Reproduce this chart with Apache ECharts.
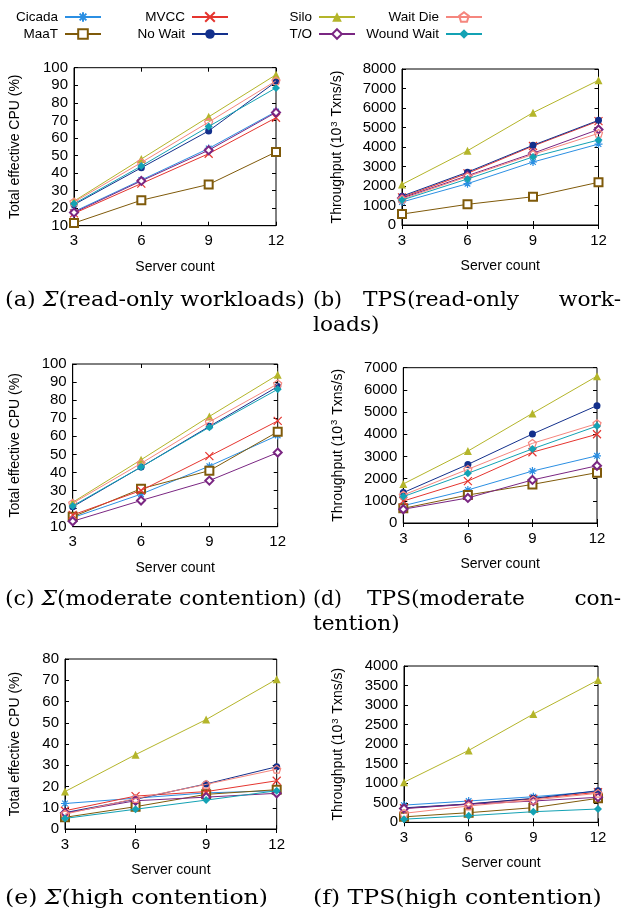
<!DOCTYPE html>
<html>
<head>
<meta charset="utf-8">
<script src="https://cdn.jsdelivr.net/npm/echarts@6/dist/echarts.min.js"></script>
<style>
  html, body { margin: 0; padding: 0; background: #fff; }
  #chart { width: 624px; height: 915px; }
</style>
</head>
<body>
<div id="chart"></div>
<script>
// server counts on the x axis
var servers = [3, 6, 9, 12];
var methods = ['Cicada', 'MaaT', 'MVCC', 'No Wait', 'Silo', 'T/O', 'Wait Die', 'Wound Wait'];

// values per method, same order as methods
var cpuReadOnly = [
    [18, 36, 54, 75],
    [11.5, 24.5, 33.5, 52],
    [17, 34, 51, 71.5],
    [22, 43, 64, 92],
    [24, 48, 72, 96],
    [17.5, 35.5, 53, 74.5],
    [23.5, 46, 69, 92.5],
    [22.5, 44, 66.5, 88.5]
];
var tpsReadOnly = [
    [1180, 2120, 3230, 4150],
    [560, 1060, 1450, 2190],
    [1420, 2650, 4050, 5330],
    [1480, 2710, 4090, 5370],
    [2080, 3810, 5760, 7420],
    [1380, 2530, 3680, 4900],
    [1330, 2480, 3620, 4700],
    [1280, 2360, 3490, 4360]
];
var cpuModerate = [
    [15, 28, 43.5, 60.5],
    [15.5, 31, 41, 62.5],
    [16.5, 30, 49, 68.5],
    [21, 43, 65.5, 87.5],
    [23.5, 47, 71, 94],
    [13, 24.5, 35.5, 51],
    [23, 45, 68, 89],
    [21.5, 43, 65, 86]
];
var tpsModerate = [
    [780, 1490, 2340, 3030],
    [660, 1260, 1740, 2270],
    [990, 1890, 3190, 4000],
    [1370, 2640, 4010, 5290],
    [1760, 3240, 4940, 6620],
    [620, 1130, 1940, 2580],
    [1260, 2420, 3590, 4480],
    [1190, 2240, 3340, 4370]
];
var cpuHigh = [
    [12, 14.5, 17, 18],
    [5.5, 10.5, 16.3, 18.5],
    [8.6, 15.5, 17.6, 22.7],
    [7.7, 14, 21.2, 29.3],
    [17.6, 35, 51.5, 70.5],
    [7.5, 13.3, 15, 16.8],
    [7, 14.3, 21, 28.1],
    [5, 9.3, 13.6, 18]
];
var tpsHigh = [
    [440, 545, 655, 790],
    [140, 246, 374, 614],
    [360, 468, 600, 770],
    [370, 470, 614, 809],
    [1024, 1840, 2770, 3640],
    [350, 460, 545, 640],
    [230, 417, 571, 742],
    [80, 169, 271, 340]
];

var colors = ['#2b8fe3', '#7f5a0a', '#e5352f', '#13308c', '#b4b52a', '#7a2682', '#f5867e', '#13a2b4'];
var symbols = [
    'path://M0,-10L0,10M-10,0L10,0M-7,-7L7,7M-7,7L7,-7',
    'emptyRect',
    'path://M-10,-10L10,10M-10,10L10,-10',
    'circle',
    'triangle',
    'emptyDiamond',
    'path://M0,-10L9.5,-3.1L5.9,8.1L-5.9,8.1L-9.5,-3.1Z',
    'diamond'
];
var symbolSizes = [8, 8, 8, 7, 8, 8, 8, 8];

var FONT = 'Liberation Sans';
var SERIF = 'DejaVu Serif';
var CPU_NAME = 'Total effective CPU (%)';
var TPS_NAME = '{n|Throughput (10}{s|3}{n| Txns/s)}';

var panels = [
    {data: cpuReadOnly, min: 10, max: 100, step: 10, name: CPU_NAME, grid: [74, 67.7, 202, 158], gap: 52},
    {data: tpsReadOnly, min: 0, max: 8000, step: 1000, name: TPS_NAME, grid: [402, 69, 196.5, 156], gap: 56},
    {data: cpuModerate, min: 10, max: 100, step: 10, name: CPU_NAME, grid: [72.7, 364, 205, 162.7], gap: 51},
    {data: tpsModerate, min: 0, max: 7000, step: 1000, name: TPS_NAME, grid: [403.3, 367.7, 193.7, 155.3], gap: 57},
    {data: cpuHigh, min: 0, max: 80, step: 10, name: CPU_NAME, grid: [65, 659, 211.7, 170], gap: 43},
    {data: tpsHigh, min: 0, max: 4000, step: 500, name: TPS_NAME, grid: [404, 666, 194, 156.3], gap: 57}
];

var grids = [], xAxes = [], yAxes = [], series = [];
var tick = {show: true, inside: true, length: 4, lineStyle: {color: '#000', width: 1}};

panels.forEach(function (p, k) {
    grids.push({
        left: p.grid[0], top: p.grid[1], width: p.grid[2], height: p.grid[3],
        show: true, borderColor: '#000', borderWidth: 1, backgroundColor: 'transparent'
    });
    xAxes.push({
        type: 'value', gridIndex: k, min: 3, max: 12, interval: 3, position: 'bottom',
        axisLine: {show: true, onZero: false, lineStyle: {color: '#000'}},
        axisTick: tick, splitLine: {show: false},
        axisLabel: {color: '#000', fontSize: 15, fontFamily: FONT, margin: 8},
        name: 'Server count', nameLocation: 'middle', nameGap: 34,
        nameTextStyle: {color: '#000', fontSize: 14, fontFamily: FONT}
    });
    xAxes.push({
        type: 'value', gridIndex: k, min: 3, max: 12, interval: 3, position: 'top',
        axisLine: {show: false}, axisTick: tick, axisLabel: {show: false}, splitLine: {show: false}
    });
    yAxes.push({
        type: 'value', gridIndex: k, min: p.min, max: p.max, interval: p.step, position: 'left',
        axisLine: {show: true, onZero: false, lineStyle: {color: '#000'}},
        axisTick: tick, splitLine: {show: false},
        axisLabel: {color: '#000', fontSize: 15, fontFamily: FONT, margin: 6,
            formatter: function (v) { return String(v); }},
        name: p.name, nameLocation: 'middle', nameGap: p.gap,
        nameTextStyle: {
            color: '#000', fontSize: 14, fontFamily: FONT,
            rich: {
                n: {fontSize: 14, fontFamily: FONT, color: '#000', lineHeight: 17},
                s: {fontSize: 9.5, fontFamily: FONT, color: '#000', lineHeight: 17, verticalAlign: 'top', padding: [0, 1, 6, 1]}
            }
        }
    });
    yAxes.push({
        type: 'value', gridIndex: k, min: p.min, max: p.max, interval: p.step, position: 'right',
        axisLine: {show: false}, axisTick: tick, axisLabel: {show: false}, splitLine: {show: false}
    });
    methods.forEach(function (m, i) {
        var hollow = (i === 0 || i === 2 || i === 6);
        series.push({
            type: 'line', name: m,
            xAxisIndex: k * 2, yAxisIndex: k * 2,
            data: servers.map(function (s, j) { return [s, p.data[i][j]]; }),
            symbol: symbols[i], symbolSize: symbolSizes[i], symbolKeepAspect: true,
            showAllSymbol: true,
            lineStyle: {color: colors[i], width: 1},
            itemStyle: {
                color: hollow ? 'rgba(255,255,255,0)' : colors[i],
                borderColor: colors[i],
                borderWidth: (hollow || i === 1 || i === 5) ? 1.2 : 0
            },
            emphasis: {disabled: true},
            z: 2 + i
        });
    });
});

function legendCol(names, right) {
    return {
        data: names, orient: 'vertical', align: 'right', right: right, top: 10,
        itemWidth: 36, itemHeight: 12, itemGap: 3, padding: 0,
        selectedMode: false,
        textStyle: {color: '#000', fontSize: 13.5, fontFamily: FONT, padding: [0, 2, 0, 0]}
    };
}

// caption text, stretched horizontally to imitate the wide serif of the paper
function caption(text, x, y, align, sx) {
    return {
        type: 'text', x: x, y: y, scaleX: sx || 1.15,
        style: {
            text: text, x: 0, y: 0, fill: '#000',
            align: align || 'left', verticalAlign: 'middle',
            font: '20.5px "' + SERIF + '"',
            rich: {
                n: {fontSize: 20.5, fontFamily: SERIF, fill: '#000'},
                i: {fontSize: 20.5, fontFamily: SERIF, fontStyle: 'italic', fill: '#000'}
            }
        }
    };
}

var chart = echarts.init(document.getElementById('chart'));
chart.setOption({
    animation: false,
    backgroundColor: '#fff',
    legend: [
        legendCol(['Cicada', 'MaaT'], 522),
        legendCol(['MVCC', 'No Wait'], 395),
        legendCol(['Silo', 'T/O'], 268),
        legendCol(['Wait Die', 'Wound Wait'], 141)
    ],
    grid: grids,
    xAxis: xAxes,
    yAxis: yAxes,
    series: series,
    graphic: [
        caption('{n|(a) }{i|Σ}{n|(read-only workloads)}', 5, 301, 'left', 1.085),
        caption('{n|(b)}', 313, 301, 'left', 1.0),
        caption('{n|TPS(read-only}', 441, 301, 'center', 1.06),
        caption('{n|work-}', 621, 301, 'right', 1.06),
        caption('{n|loads)}', 313, 326, 'left', 1.06),
        caption('{n|(c) }{i|Σ}{n|(moderate contention)}', 5, 600, 'left', 1.072),
        caption('{n|(d)}', 313, 600, 'left', 1.0),
        caption('{n|TPS(moderate}', 446, 600, 'center', 1.06),
        caption('{n|con-}', 621, 600, 'right', 1.06),
        caption('{n|tention)}', 313, 625, 'left', 1.06),
        caption('{n|(e) }{i|Σ}{n|(high contention)}', 5, 899, 'left', 1.15),
        caption('{n|(f) TPS(high contention)}', 313, 899, 'left', 1.15)
    ]
});
</script>
</body>
</html>
